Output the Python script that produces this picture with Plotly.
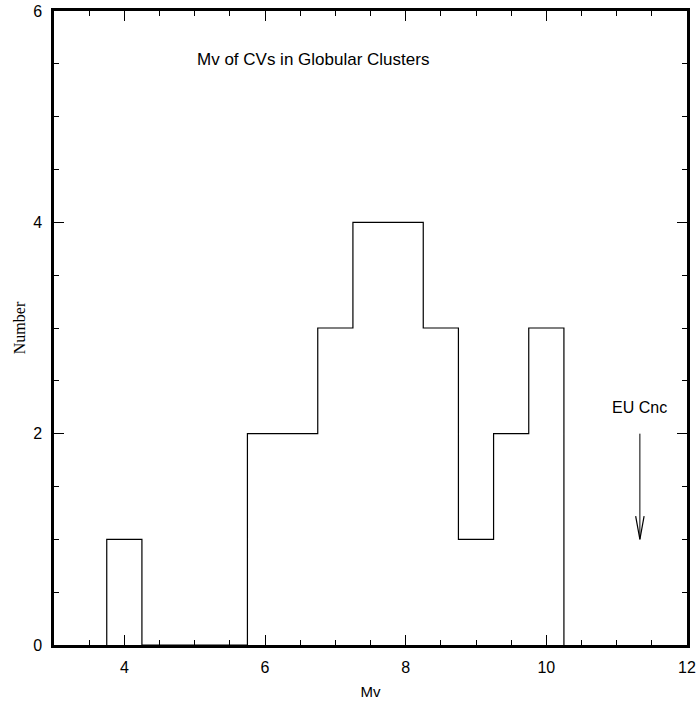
import plotly.graph_objects as go

# Data: histogram of Mv (bin width 0.5)
bin_edges = [3.75, 4.25, 4.75, 5.25, 5.75, 6.25, 6.75, 7.25, 7.75, 8.25, 8.75, 9.25, 9.75, 10.25]
counts = [1, 0, 0, 0, 2, 2, 3, 4, 4, 3, 1, 2, 3]

title_text = "Mv of CVs in Globular Clusters"
annot_label = "EU Cnc"
annot_x = 11.33
annot_y_start = 2.0
annot_y_end = 1.0

# Build step outline from bins
xs, ys = [bin_edges[0]], [0]
for i, c in enumerate(counts):
    xs += [bin_edges[i], bin_edges[i + 1]]
    ys += [c, c]
xs.append(bin_edges[-1])
ys.append(0)

fig = go.Figure()
fig.add_trace(go.Scatter(x=xs, y=ys, mode="lines",
                         line=dict(color="black", width=1.2),
                         showlegend=False, hoverinfo="skip"))

# Arrow (shaft + open V head) pointing down at EU Cnc
head_dx, head_dy = 0.06, 0.22
fig.add_trace(go.Scatter(x=[annot_x, annot_x], y=[annot_y_start, annot_y_end], mode="lines",
                         line=dict(color="black", width=1), showlegend=False, hoverinfo="skip"))
fig.add_trace(go.Scatter(x=[annot_x - head_dx, annot_x, annot_x + head_dx],
                         y=[annot_y_end + head_dy, annot_y_end, annot_y_end + head_dy],
                         mode="lines", line=dict(color="black", width=1.2),
                         showlegend=False, hoverinfo="skip"))

fig.add_annotation(x=annot_x, y=2.25, xref="x", yref="y", text=annot_label,
                   showarrow=False, font=dict(family="Liberation Sans", size=16, color="black"))
fig.add_annotation(x=0.409, y=0.924, xref="paper", yref="paper",
                   xanchor="center", yanchor="middle",
                   text=title_text, showarrow=False,
                   font=dict(family="Liberation Sans", size=17, color="black"))

axis_common = dict(showgrid=False, zeroline=False, showline=True, linecolor="black",
                   linewidth=2.5, mirror="ticks", ticks="inside", ticklen=10, tickwidth=1.3,
                   tickcolor="black", automargin=False,
                   tickfont=dict(family="Liberation Sans", size=16, color="black"))

fig.update_xaxes(range=[3, 12], dtick=2, tick0=0, ticklabelstandoff=6,
                 minor=dict(dtick=0.5, ticks="inside", ticklen=5, tickwidth=1.2, tickcolor="black"),
                 title=dict(text="Mv", font=dict(family="Liberation Sans", size=15, color="black"),
                            standoff=12),
                 **axis_common)
fig.update_yaxes(range=[0, 6], dtick=2, tick0=0, ticklabelstandoff=6,
                 minor=dict(dtick=0.5, ticks="inside", ticklen=5, tickwidth=1.2, tickcolor="black"),
                 title=dict(text="Number", font=dict(family="Liberation Serif", size=16, color="black"),
                            standoff=4),
                 **axis_common)

fig.update_layout(width=697, height=702, plot_bgcolor="white", paper_bgcolor="white",
                  margin=dict(l=54, r=10, t=11, b=57))

fig.write_html("out.html", config={"displayModeBar": False},
               post_script="document.body.style.margin='0';document.body.style.overflow='hidden';")
